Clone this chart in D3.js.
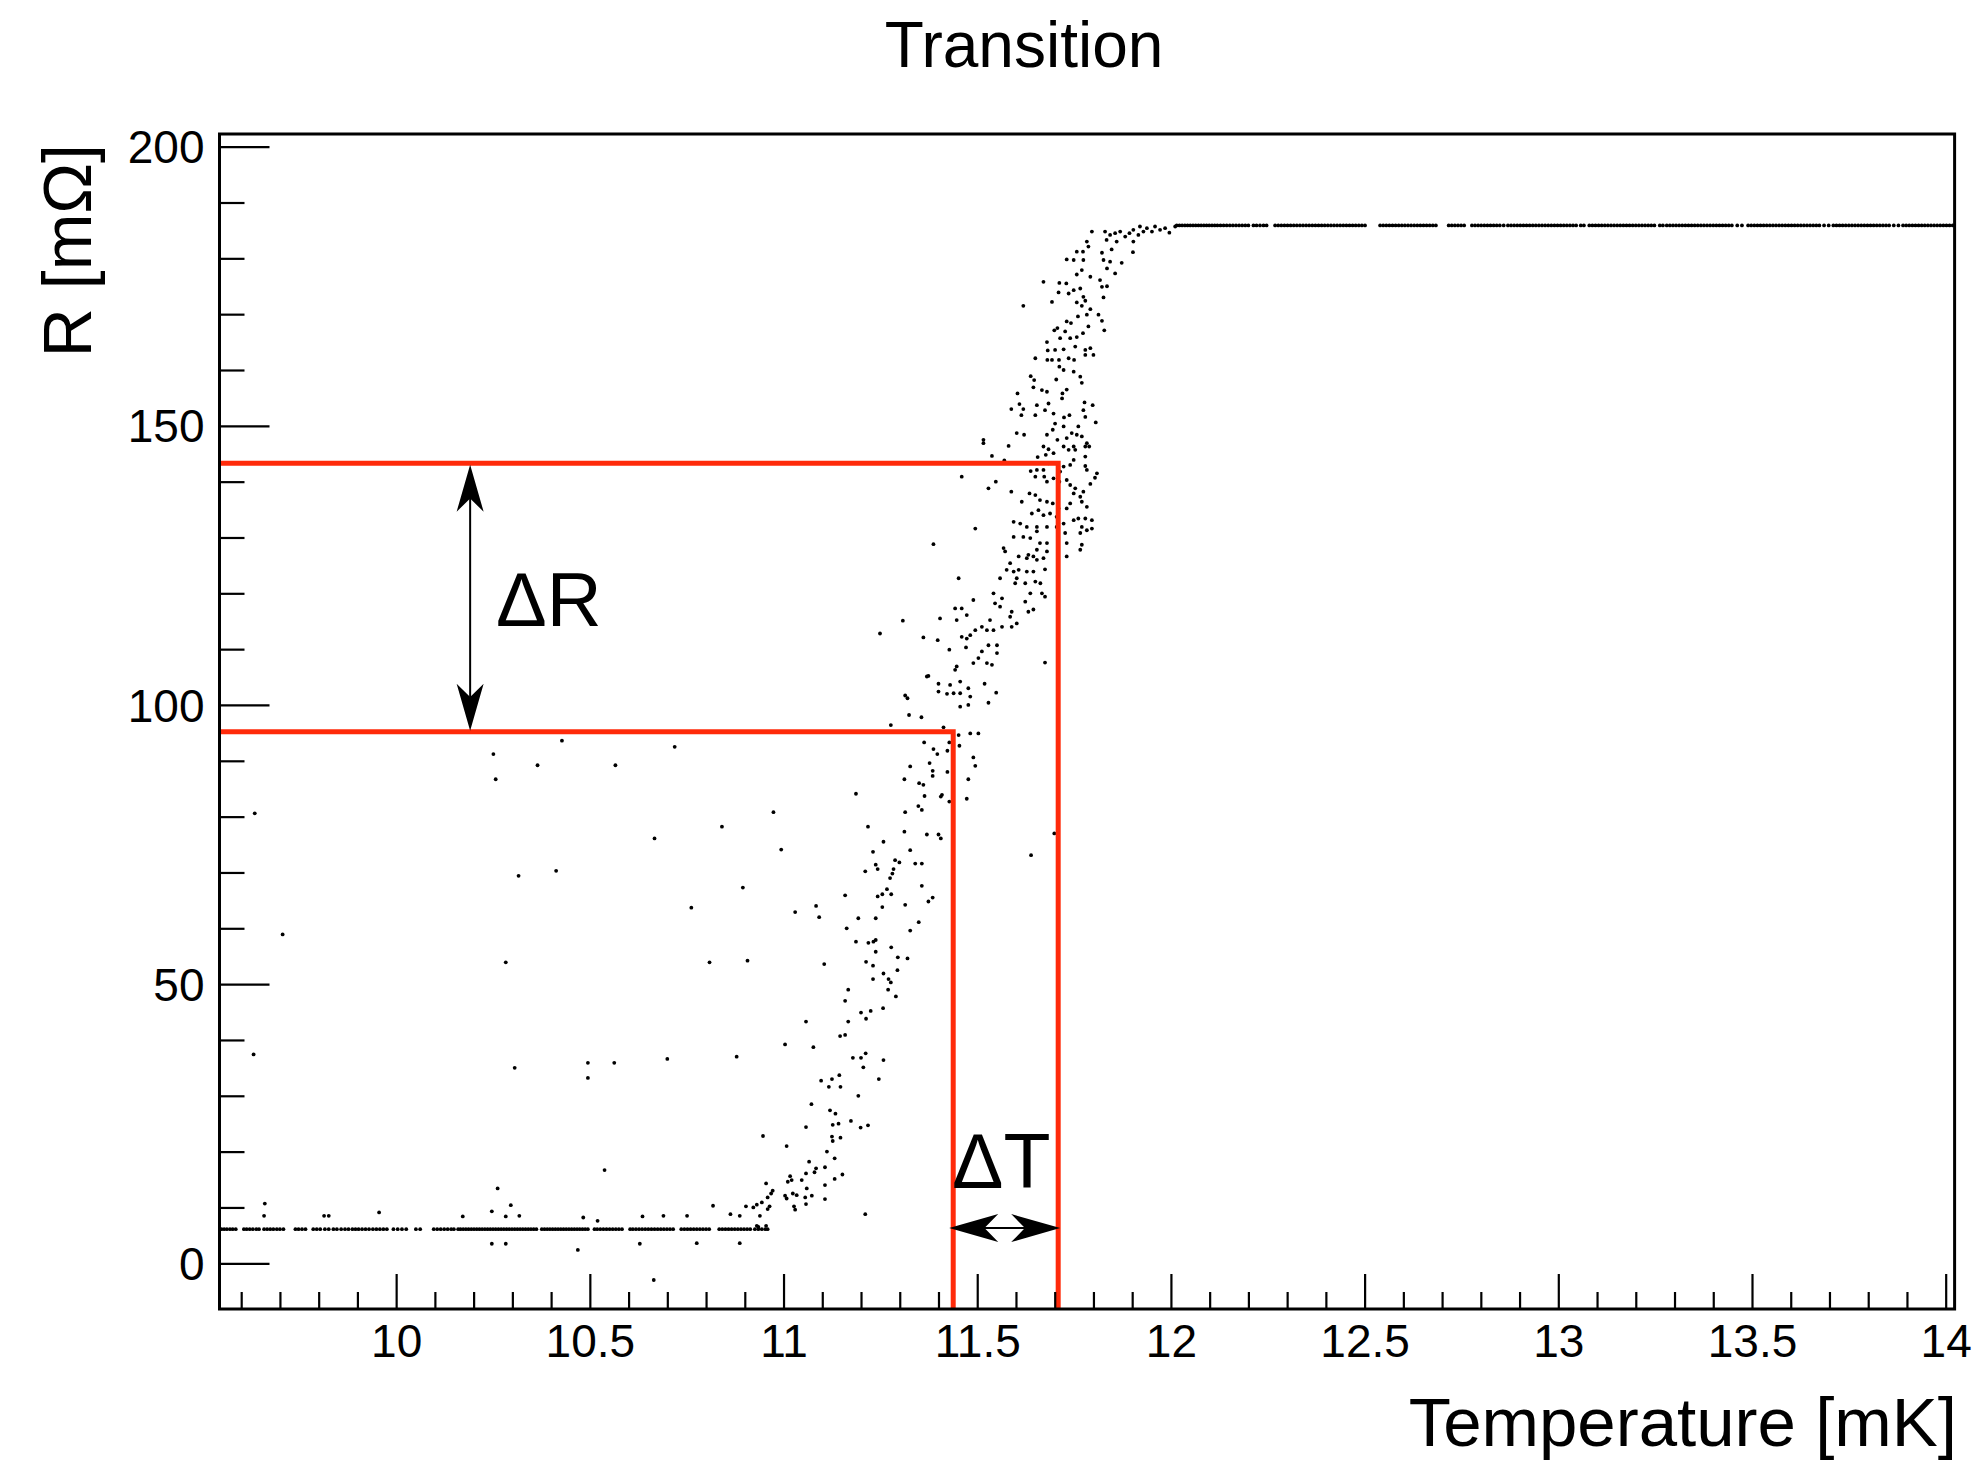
<!DOCTYPE html>
<html>
<head>
<meta charset="utf-8">
<script src="https://cdn.jsdelivr.net/npm/d3@7"></script>
<style>
  body { margin: 0; background: #fff; }
  text { font-family: "Liberation Sans", Arial, Helvetica, sans-serif; fill: #000; }
</style>
</head>
<body>
<svg id="chart" width="1977" height="1461"></svg>
<script>
// axis ranges and ticks
const tempRange = [9.544, 14.023];
const resRange = [-8.19, 202.27];
const tempTicks = [10, 10.5, 11, 11.5, 12, 12.5, 13, 13.5, 14];
const resTicks = [0, 50, 100, 150, 200];

// the two markers (red lines)
const markerT = [11.438, 11.709];
const markerR = [95.2, 143.3];
const arrowRAtT = 10.191;   // where the dR arrow sits
const arrowTAtR = 6.3;      // where the dT arrow sits

// flat parts: superconducting and normal state
const lowPlateauR = 6.1;
const lowPlateauT = [9.549, 9.556, 9.563, 9.571, 9.578, 9.586, 9.607, 9.614, 9.622, 9.630, 9.639, 9.646,
  9.659, 9.667, 9.675, 9.683, 9.692, 9.700, 9.709, 9.740, 9.748, 9.757, 9.766,
  9.786, 9.795, 9.804, 9.816, 9.826, 9.838, 9.847, 9.858, 9.868, 9.877, 9.887, 9.895,
  9.903, 9.912, 9.921, 9.930, 9.940, 9.949, 9.958, 9.967, 9.976, 9.993, 10.004, 10.015, 10.026,
  10.051, 10.062, 10.097, 10.106, 10.115, 10.124, 10.133, 10.142, 10.149,
  10.160, 10.166, 10.173, 10.180, 10.187, 10.194, 10.201, 10.208, 10.215, 10.222, 10.229, 10.236,
  10.243, 10.250, 10.257, 10.264, 10.271, 10.278, 10.285, 10.292, 10.299, 10.306, 10.313, 10.320,
  10.327, 10.334, 10.341, 10.348, 10.355, 10.362, 10.376, 10.383, 10.390, 10.397, 10.404,
  10.411, 10.418, 10.425, 10.432, 10.439, 10.446, 10.453, 10.460, 10.467, 10.474, 10.481, 10.488, 10.495,
  10.512, 10.519, 10.527, 10.535, 10.543, 10.551, 10.559, 10.567, 10.575, 10.583,
  10.604, 10.611, 10.619, 10.627, 10.635, 10.643, 10.651, 10.659, 10.667, 10.675, 10.683, 10.691, 10.699, 10.707, 10.715,
  10.736, 10.744, 10.752, 10.760, 10.768, 10.776, 10.784, 10.792, 10.800, 10.808,
  10.834, 10.842, 10.850, 10.858, 10.866, 10.874, 10.882, 10.890, 10.898, 10.906, 10.914,
  10.926, 10.935, 10.944, 10.953];

const highPlateauR = 185.9;
const highPlateauT = [12.015, 12.022, 12.029, 12.036, 12.043, 12.050, 12.057, 12.064, 12.071, 12.078, 12.085,
  12.092, 12.099, 12.106, 12.113, 12.120, 12.128, 12.136, 12.144, 12.152, 12.160, 12.168, 12.176, 12.184, 12.192, 12.200,
  12.213, 12.221, 12.230, 12.239, 12.247,
  12.269, 12.277, 12.285, 12.293, 12.301, 12.309, 12.317, 12.325, 12.333, 12.341, 12.349, 12.357, 12.365, 12.373,
  12.381, 12.389, 12.397, 12.405, 12.413, 12.421, 12.429, 12.437, 12.445, 12.453, 12.461, 12.469, 12.477, 12.485, 12.493, 12.501,
  12.540, 12.548, 12.556, 12.564, 12.572, 12.580, 12.588, 12.596, 12.604, 12.612, 12.620, 12.628, 12.636, 12.644,
  12.652, 12.660, 12.668, 12.676, 12.684, 12.717, 12.725, 12.733, 12.741, 12.749, 12.757,
  12.777, 12.785, 12.793, 12.801, 12.809, 12.817, 12.825, 12.833, 12.841, 12.849, 12.859,
  12.870, 12.878, 12.886, 12.894, 12.902, 12.910, 12.918, 12.926, 12.934, 12.942, 12.950, 12.958, 12.966, 12.974,
  12.982, 12.990, 12.998, 13.006, 13.014, 13.022, 13.030, 13.038, 13.046, 13.058, 13.066,
  13.080, 13.088, 13.096, 13.104, 13.112, 13.120, 13.128, 13.136, 13.144, 13.152, 13.160, 13.168, 13.176, 13.184,
  13.192, 13.200, 13.208, 13.216, 13.224, 13.232, 13.240, 13.248, 13.262, 13.270,
  13.280, 13.288, 13.296, 13.304, 13.312, 13.320, 13.328, 13.336, 13.344, 13.352, 13.360, 13.368, 13.376, 13.384,
  13.392, 13.400, 13.408, 13.416, 13.424, 13.432, 13.440, 13.448, 13.462, 13.474,
  13.490, 13.498, 13.506, 13.514, 13.522, 13.530, 13.538, 13.546, 13.554, 13.562, 13.570, 13.578, 13.586, 13.594,
  13.602, 13.610, 13.618, 13.626, 13.634, 13.642, 13.650, 13.658, 13.666, 13.674, 13.686, 13.698,
  13.710, 13.718, 13.726, 13.734, 13.742, 13.750, 13.758, 13.766, 13.774, 13.782, 13.790, 13.798, 13.806, 13.814,
  13.822, 13.830, 13.838, 13.846, 13.854, 13.866, 13.878,
  13.890, 13.898, 13.906, 13.914, 13.922, 13.930, 13.938, 13.946, 13.954, 13.962, 13.970, 13.978, 13.986, 13.994,
  14.002, 14.010, 14.018];

// the knee into the normal state [T mK, R mOhm]
const kneePoints = [[11.834,183.3],[11.843,184.2],[11.856,184.5],[11.860,183.0],[11.869,184.8],[11.882,183.9],
  [11.903,183.0],[11.903,185.1],[11.920,185.7],[11.929,184.8],[11.938,185.4],[11.951,184.8],[11.959,185.7],
  [11.972,185.1],[11.985,185.4],[11.996,184.6],[12.011,185.7],[11.847,181.6],[11.902,181.1],[11.822,181.0],
  [11.830,184.8],[11.893,184.5],[11.916,184.2]];

// upper half of the transition
const upperPoints = [[11.796,184.8],[11.783,183.0],[11.787,182.1],[11.773,181.2],[11.757,181.2],[11.731,179.8],
  [11.749,179.7],[11.774,179.7],[11.826,179.7],[11.843,179.4],[11.835,178.2],[11.856,177.3],[11.873,179.2],
  [11.770,177.9],[11.757,177.1],[11.792,176.7],[11.817,176.1],[11.822,174.9],[11.835,175.0],[11.671,175.8],
  [11.712,175.6],[11.730,175.5],[11.766,174.6],[11.749,174.3],[11.710,173.9],[11.736,173.7],[11.774,173.1],
  [11.779,172.4],[11.757,172.1],[11.770,171.5],[11.792,170.9],[11.826,173.0],[11.693,172.2],[11.619,171.5],
  [11.813,169.9],[11.822,168.8],[11.828,167.1],[11.783,169.9],[11.760,169.6],[11.787,167.8],[11.773,166.6],
  [11.757,165.9],[11.740,165.7],[11.714,165.7],[11.699,167.1],[11.707,167.5],[11.727,166.9],[11.731,168.7],
  [11.742,168.4],[11.680,165.0],[11.682,163.5],[11.701,163.6],[11.723,163.7],[11.753,164.2],[11.779,163.6],
  [11.792,163.9],[11.800,162.7],[11.779,162.7],[11.750,161.8],[11.736,162.1],[11.711,161.8],[11.681,161.8],
  [11.693,161.8],[11.712,160.6],[11.723,160.0],[11.749,159.7],[11.766,158.8],[11.770,157.7],[11.704,158.3],
  [11.731,156.5],[11.650,162.1],[11.638,158.9],[11.647,158.2],[11.645,156.9],[11.667,156.4],[11.680,156.1],
  [11.720,155.8],[11.719,154.9],[11.604,155.8],[11.588,153.0],[11.609,153.9],[11.619,153.0],[11.654,153.7],
  [11.675,152.8],[11.684,154.0],[11.697,152.2],[11.724,151.5],[11.738,151.9],[11.777,154.2],[11.798,153.7],
  [11.774,152.8],[11.779,151.6],[11.806,150.6],[11.614,151.9],[11.650,151.9],[11.602,148.7],[11.621,148.4],
  [11.680,148.4],[11.695,149.3],[11.701,150.4],[11.723,149.9],[11.731,147.8],[11.744,148.7],[11.757,148.4],
  [11.770,148.1],[11.783,146.9],[11.761,149.9],[11.749,146.3],[11.516,147.5],[11.516,146.9],[11.581,146.4],
  [11.538,144.6],[11.570,143.8],[11.656,144.4],[11.671,146.3],[11.677,144.8],[11.684,145.8],[11.697,145.1],
  [11.707,147.5],[11.723,146.3],[11.736,145.7],[11.753,145.7],[11.779,146.3],[11.789,146.3],[11.779,144.5],
  [11.749,143.9],[11.779,142.8],[11.783,142.1],[11.809,141.5],[11.804,140.7],[11.740,143.0],[11.723,142.7],
  [11.714,141.8],[11.684,143.3],[11.671,142.1],[11.654,142.1],[11.638,141.9],[11.650,140.9],[11.673,140.9],
  [11.680,140.0],[11.697,140.6],[11.712,140.0],[11.731,140.3],[11.740,139.4],[11.753,138.8],[11.749,137.9],
  [11.774,138.2],[11.792,139.6],[11.766,137.3],[11.770,136.4],[11.783,135.5],[11.460,140.9],[11.529,138.8],
  [11.548,140.0],[11.588,138.2],[11.615,136.4],[11.635,137.9],[11.650,137.6],[11.662,136.7],[11.680,136.4],
  [11.695,136.1],[11.710,135.2],[11.731,135.2],[11.740,136.1],[11.658,134.9],[11.641,134.3],[11.671,134.0],
  [11.688,134.3],[11.705,133.7],[11.723,132.5],[11.749,133.1],[11.761,133.4],[11.779,133.4],[11.796,133.1],
  [11.770,131.9],[11.783,131.3],[11.796,131.6],[11.766,130.8],[11.727,130.8],[11.705,131.9],[11.680,131.9],
  [11.654,131.9],[11.628,131.9],[11.611,132.5],[11.594,132.8],[11.495,131.6],[11.619,130.1],[11.637,129.9],
  [11.654,131.1],[11.662,129.0],[11.680,129.0],[11.654,127.8],[11.645,126.6],[11.628,126.3],[11.594,130.1],
  [11.387,128.8],[11.568,128.1],[11.572,127.5],[11.585,125.4],[11.607,126.6],[11.632,126.9],[11.654,126.0],
  [11.671,126.3],[11.680,127.5],[11.731,129.0],[11.770,128.7],[11.766,127.8],[11.576,124.2],[11.594,123.9],
  [11.607,124.2],[11.628,123.9],[11.645,123.9],[11.675,124.3],[11.559,122.7],[11.452,122.7],[11.602,122.7],
  [11.731,126.6]];

// middle of the transition
const middlePoints = [[11.598,121.8],[11.650,122.1],[11.663,121.8],[11.624,121.8],
  [11.542,120.0],[11.564,119.1],[11.624,118.5],[11.637,120.0],[11.667,120.0],[11.675,119.4],[11.490,118.8],
  [11.546,118.2],[11.559,117.6],[11.443,117.3],[11.460,117.3],[11.473,116.1],[11.589,116.7],[11.632,116.7],
  [11.645,117.1],[11.404,115.5],[11.447,115.2],[11.533,115.2],[11.585,115.8],[11.602,114.6],[11.308,115.1],
  [11.512,114.0],[11.525,113.4],[11.542,113.4],[11.564,114.0],[11.589,114.0],[11.495,113.4],[11.482,112.5],
  [11.460,112.2],[11.473,111.9],[11.361,112.1],[11.398,111.6],[11.249,112.8],[11.529,110.7],[11.551,110.7],
  [11.512,109.6],[11.551,109.3],[11.503,108.4],[11.490,107.5],[11.525,107.5],[11.538,107.2],[11.428,109.9],
  [11.471,110.3],[11.447,106.9],[11.443,106.3],[11.374,105.2],[11.370,105.1],[11.675,107.6],[11.400,103.8],
  [11.430,103.6],[11.456,104.2],[11.477,103.0],[11.519,103.8],[11.400,102.4],[11.422,102.0],[11.439,102.1],
  [11.456,102.1],[11.482,101.5],[11.477,100.0],[11.456,99.7],[11.529,100.4],[11.549,102.2],[11.314,101.7],
  [11.320,101.2],[11.324,98.2],[11.356,97.8],[11.277,96.4],[11.413,96.0],[11.452,94.6],[11.482,94.9],
  [11.503,94.9],[11.363,93.3],[11.387,92.1],[11.397,91.2],[11.423,91.8],[11.428,93.3],[11.454,92.7],
  [11.490,90.6],[11.495,89.1],[11.377,89.6],[11.327,89.0],[11.423,88.0],[11.312,86.7],[11.350,86.0],
  [11.361,85.7],[11.385,87.3],[11.385,88.2],[11.477,86.7],[11.364,83.7],[11.409,83.9],[11.406,83.6],
  [11.428,82.7],[11.473,83.2],[11.187,84.1],[11.348,81.9],[11.357,81.2],[11.314,80.8],[10.974,80.8],
  [10.841,78.2],[11.218,78.2],[11.312,77.3],[11.370,76.8],[11.400,76.8],[11.406,76.1],[11.699,77.0],
  [11.639,73.1],[11.258,75.5],[11.327,74.0],[11.231,73.7],[10.994,74.1],[11.288,72.2],[11.299,71.8],
  [11.238,71.4],[11.243,70.6],[11.340,71.6],[11.357,71.6],[11.284,70.6],[11.281,69.8],[11.211,70.2],
  [11.275,69.0],[10.895,67.3],[11.357,67.6],[11.267,67.0],[11.255,66.1],[11.243,65.7],[11.278,66.1],
  [11.159,65.9],[11.385,65.5],[11.374,64.8],[11.314,64.2],[11.255,63.8],[11.084,64.0],[11.030,62.9],
  [11.092,62.0],[11.193,61.8],[11.238,61.8],[11.349,61.1],[11.327,59.6],[11.163,60.0],[11.187,57.6],
  [11.219,57.4],[11.232,57.6],[11.238,57.9],[11.278,56.6]];

// lower part of the transition
const lowerPoints = [[10.809,53.9],[10.907,54.2],[11.105,53.6],[11.238,55.8],[11.213,54.0],[11.231,53.3],
  [11.295,54.8],[11.320,54.6],[11.294,52.5],[11.258,51.9],[11.271,50.9],[11.277,50.3],[11.231,50.9],
  [11.270,49.0],[11.290,47.8],[11.167,49.0],[11.159,47.0],[11.257,45.7],[11.225,45.2],[11.200,44.9],
  [11.213,43.8],[11.167,43.3],[11.058,43.3],[11.146,40.7],[11.159,40.9],[11.004,39.2],[11.077,38.7],
  [10.879,37.0],[11.179,36.8],[11.200,36.8],[11.212,37.6],[11.206,35.1],[11.258,36.4],[11.246,33.0],
  [11.097,32.7],[11.125,33.0],[11.144,33.7],[11.117,31.6],[11.147,31.6],[11.193,30.0],[11.072,28.5],
  [11.120,27.4],[11.134,26.8],[11.174,25.5],[11.127,24.8],[11.142,25.0],[11.199,24.3],[11.218,24.7],
  [11.058,24.4],[10.947,22.8],[11.125,22.7],[11.147,22.5],[11.127,21.9],[11.008,21.0],[11.112,20.0],
  [11.132,18.8],[11.066,18.2],[11.084,17.0],[11.080,16.3],[11.058,16.1],[11.107,17.2],[11.017,15.6],
  [11.021,14.9],[11.047,14.9],[11.011,14.6],[10.955,14.3],[11.060,13.4],[11.152,15.9],[11.132,15.1],
  [11.107,14.0],[10.972,13.0],[10.968,12.5],[10.959,11.8],[11.004,12.1],[11.008,11.6],[11.024,12.5],
  [11.034,12.2],[11.073,12.1],[11.056,11.8],[11.107,11.5],[11.058,10.6],[10.944,10.9],[10.931,10.5],
  [10.922,10.0],[10.903,10.2],[10.964,10.2],[10.959,9.7],[11.027,10.2],[11.030,9.6],[10.818,10.3],
  [10.863,8.8],[10.887,8.5],[10.939,8.5],[11.211,8.8],[10.931,6.7],[10.935,6.5],[10.955,6.7],[10.959,6.1],
  [10.776,3.6],[10.887,3.6]];

// isolated points away from the curve
const strayPoints = [[9.661,10.7],[9.659,8.5],[9.814,8.5],[9.826,8.5],[9.956,9.1],[10.172,8.4],[10.247,9.3],
  [10.262,13.4],[10.283,8.4],[10.296,10.4],[10.318,8.5],[10.247,3.5],[10.283,3.5],[10.469,2.4],[10.483,8.2],
  [10.520,7.6],[10.538,16.7],[10.629,3.5],[10.636,8.4],[10.665,-3.0],[10.690,8.5],[10.751,8.5],
  [9.635,80.6],[9.707,58.9],[9.632,37.4],[10.251,91.2],[10.257,86.7],[10.365,89.2],[10.428,93.6],
  [10.566,89.2],[10.719,92.5],[10.316,69.4],[10.413,70.3],[10.283,53.9],[10.306,35.0],[10.495,35.9],
  [10.495,33.2],[10.563,35.9],[10.667,76.1],[10.762,63.7],[10.700,36.6]];

const W = 1977, H = 1461;
const plot = {left: 219.5, right: 1954.6, top: 134, bottom: 1309};
const red = "#ff2a0a";

const svg = d3.select("#chart");
svg.append("rect").attr("width", W).attr("height", H).attr("fill", "#fff");

const x = d3.scaleLinear().domain(tempRange).range([plot.left, plot.right]);
const y = d3.scaleLinear().domain(resRange).range([plot.bottom, plot.top]);

// all points together
const points = []
  .concat(lowPlateauT.map(t => [t, lowPlateauR]))
  .concat(highPlateauT.map(t => [t, highPlateauR]))
  .concat(kneePoints, upperPoints, middlePoints, lowerPoints, strayPoints);

svg.append("g")
  .selectAll("circle")
  .data(points)
  .join("circle")
  .attr("cx", d => x(d[0]))
  .attr("cy", d => y(d[1]))
  .attr("r", 1.9)
  .attr("fill", "#000");

// red markers: horizontal from the axis, then straight down
svg.append("g")
  .selectAll("path")
  .data(d3.zip(markerT, markerR))
  .join("path")
  .attr("d", d => `M${x(tempRange[0])},${y(d[1])}H${x(d[0])}V${y(resRange[0])}`)
  .attr("fill", "none")
  .attr("stroke", red)
  .attr("stroke-width", 5)
  .attr("stroke-linejoin", "miter");

// double arrows
function arrowHead(g, tip, dir, len, half) {
  // dir is a unit vector pointing from the base to the tip
  const px = -dir[1], py = dir[0];
  const bx = tip[0] - dir[0] * len, by = tip[1] - dir[1] * len;
  const nx = tip[0] - dir[0] * len * 0.72, ny = tip[1] - dir[1] * len * 0.72;
  g.append("path")
    .attr("d", `M${tip[0]},${tip[1]}L${bx + px * half},${by + py * half}L${nx},${ny}L${bx - px * half},${by - py * half}Z`)
    .attr("fill", "#000");
}

const arrows = svg.append("g");
const ax = x(arrowRAtT), ay1 = y(markerR[1]) + 1.5, ay2 = y(markerR[0]) - 1;
arrows.append("line").attr("x1", ax).attr("x2", ax).attr("y1", ay1 + 20).attr("y2", ay2 - 20)
  .attr("stroke", "#000").attr("stroke-width", 2);
arrowHead(arrows, [ax, ay1], [0, -1], 47, 13.5);
arrowHead(arrows, [ax, ay2], [0, 1], 47, 13.5);

const hy = y(arrowTAtR), hx1 = x(markerT[0]) - 4, hx2 = x(markerT[1]) + 2;
arrows.append("line").attr("x1", hx1 + 20).attr("x2", hx2 - 20).attr("y1", hy).attr("y2", hy)
  .attr("stroke", "#000").attr("stroke-width", 2);
arrowHead(arrows, [hx1, hy], [-1, 0], 49, 14);
arrowHead(arrows, [hx2, hy], [1, 0], 49, 14);

svg.append("text").attr("x", 496).attr("y", 626).attr("font-size", 76).text("ΔR");
svg.append("text").attr("x", 952).attr("y", 1188).attr("font-size", 77).text("ΔT");

// axes, ticks pointing inside
const minorT = d3.range(96, 141).map(v => v / 10).filter(v => !tempTicks.includes(v));
const minorR = d3.range(0, 210, 10).filter(v => !resTicks.includes(v));

const xAxis = svg.append("g").attr("transform", `translate(0,${plot.bottom})`)
  .call(d3.axisBottom(x).tickValues(tempTicks).tickSize(-35).tickPadding(15).tickFormat(d => d));
svg.append("g").attr("transform", `translate(0,${plot.bottom})`)
  .call(d3.axisBottom(x).tickValues(minorT).tickSize(-17).tickFormat(""));
const yAxis = svg.append("g").attr("transform", `translate(${plot.left},0)`)
  .call(d3.axisLeft(y).tickValues(resTicks).tickSize(-50).tickPadding(15).tickFormat(d => d));
svg.append("g").attr("transform", `translate(${plot.left},0)`)
  .call(d3.axisLeft(y).tickValues(minorR).tickSize(-25).tickFormat(""));

svg.selectAll(".domain").remove();
svg.selectAll(".tick line").attr("stroke", "#000").attr("stroke-width", 2.2);
svg.selectAll(".tick text")
  .attr("font-size", 46)
  .attr("font-family", "Liberation Sans, Arial, sans-serif")
  .attr("fill", "#000");
yAxis.selectAll(".tick text").attr("dy", "0.35em");

svg.append("rect")
  .attr("x", plot.left).attr("y", plot.top)
  .attr("width", plot.right - plot.left).attr("height", plot.bottom - plot.top)
  .attr("fill", "none").attr("stroke", "#000").attr("stroke-width", 3);

// titles
svg.append("text").attr("x", 1024).attr("y", 67).attr("text-anchor", "middle")
  .attr("font-size", 64).text("Transition");
svg.append("text").attr("x", 1957).attr("y", 1446).attr("text-anchor", "end")
  .attr("font-size", 69).text("Temperature [mK]");
svg.append("text").attr("transform", "translate(91,144) rotate(-90)").attr("text-anchor", "end")
  .attr("font-size", 68).text("R [mΩ]");
</script>
</body>
</html>
